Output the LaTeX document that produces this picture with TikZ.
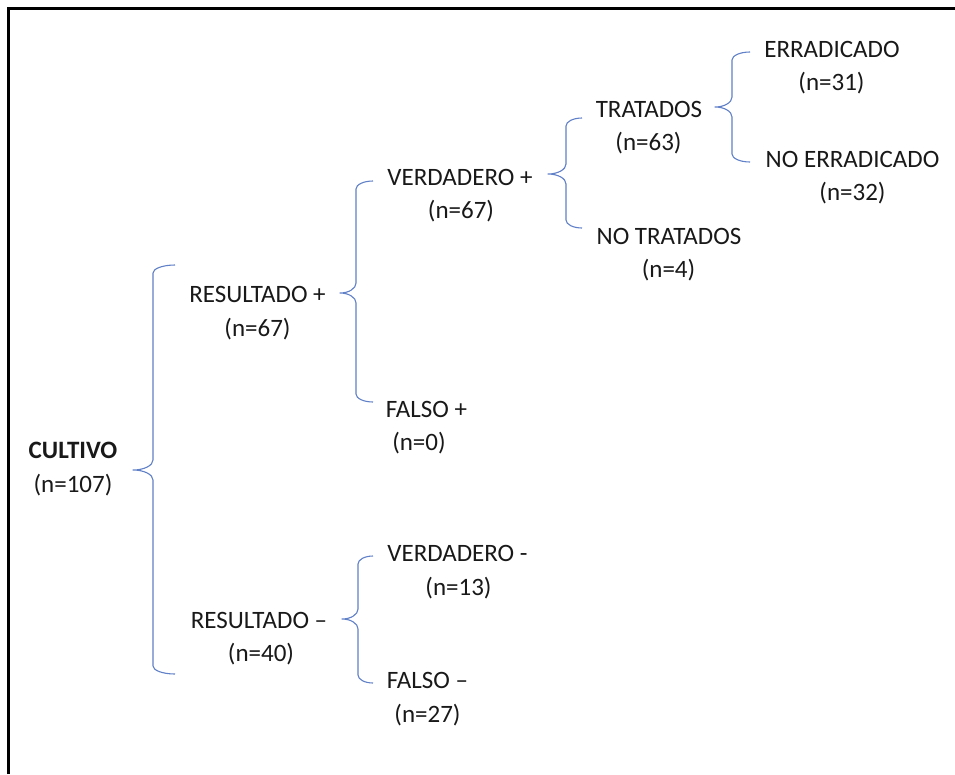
\documentclass[tikz,border=0pt]{standalone}
\usepackage{fontspec}
\setmainfont{Carlito}
\definecolor{bracecol}{RGB}{96,128,200}
\tikzset{
  lbl/.style={inner sep=0pt, anchor=base, font=\fontsize{25}{30}\selectfont, text=black!90},
  brc/.style={draw=bracecol, line width=1.1pt, line join=round},
  frame/.style={draw=black, line width=3pt}
}
\newcommand\mybrc[6]{%
 \draw[brc] (#3,#4) .. controls ({#3-0.552*(#3-#2)},#4) and (#2,{#4+8-0.552*8}) .. (#2,{#4+8})
 -- (#2,{#5-10}) .. controls (#2,{#5-10+5.52}) and ({#1+0.552*(#2-#1)},#5) .. (#1,#5)
 .. controls ({#1+0.552*(#2-#1)},#5) and (#2,{#5+10-5.52}) .. (#2,{#5+10})
 -- (#2,{#6-8}) .. controls (#2,{#6-8+0.552*8}) and ({#3-0.552*(#3-#2)},#6) .. (#3,#6);}
\begin{document}
\begin{tikzpicture}[x=1pt,y=-1pt]
\useasboundingbox (0,0) rectangle (955,774);
\fill[white] (0,0) rectangle (955,774);
\draw[frame] (8.5,774) -- (8.5,8.5) -- (955,8.5);

% labels
\node[lbl,font=\fontsize{25}{30}\selectfont\bfseries] (cultivo) at (73,458) {CULTIVO};
\node[lbl] (cultivoN) at (73,492) {(n=107)};
\node[lbl] (resp) at (257.5,302) {RESULTADO +};
\node[lbl] (respN) at (257.5,336) {(n=67)};
\node[lbl] (resn) at (259,628) {RESULTADO –};
\node[lbl] (resnN) at (261,661) {(n=40)};
\node[lbl] (vp) at (460,185) {VERDADERO +};
\node[lbl] (vpN) at (461,218) {(n=67)};
\node[lbl] (fp) at (426.5,417) {FALSO +};
\node[lbl] (fpN) at (419,450) {(n=0)};
\node[lbl] (trat) at (649,117) {TRATADOS};
\node[lbl] (tratN) at (648.5,150) {(n=63)};
\node[lbl] (ntrat) at (669,244) {NO TRATADOS};
\node[lbl] (ntratN) at (668.5,277) {(n=4)};
\node[lbl] (err) at (832,57) {ERRADICADO};
\node[lbl] (errN) at (831.5,90) {(n=31)};
\node[lbl] (nerr) at (852.5,167) {NO ERRADICADO};
\node[lbl] (nerrN) at (852.5,200) {(n=32)};
\node[lbl] (vn) at (457.5,561) {VERDADERO -};
\node[lbl] (vnN) at (458.5,595) {(n=13)};
\node[lbl] (fn) at (427.5,688) {FALSO –};
\node[lbl] (fnN) at (427.5,722) {(n=27)};

% braces: tip x, vertical x, end x, top y, mid y, bottom y
\mybrc{133}{153}{175}{265}{470}{674}
\mybrc{340}{356}{373}{181}{293}{402}
\mybrc{548}{566}{582}{118}{174}{228}
\mybrc{715}{732}{750}{52}{107}{162}
\mybrc{342}{358}{373}{556}{619}{683}
\end{tikzpicture}
\end{document}
